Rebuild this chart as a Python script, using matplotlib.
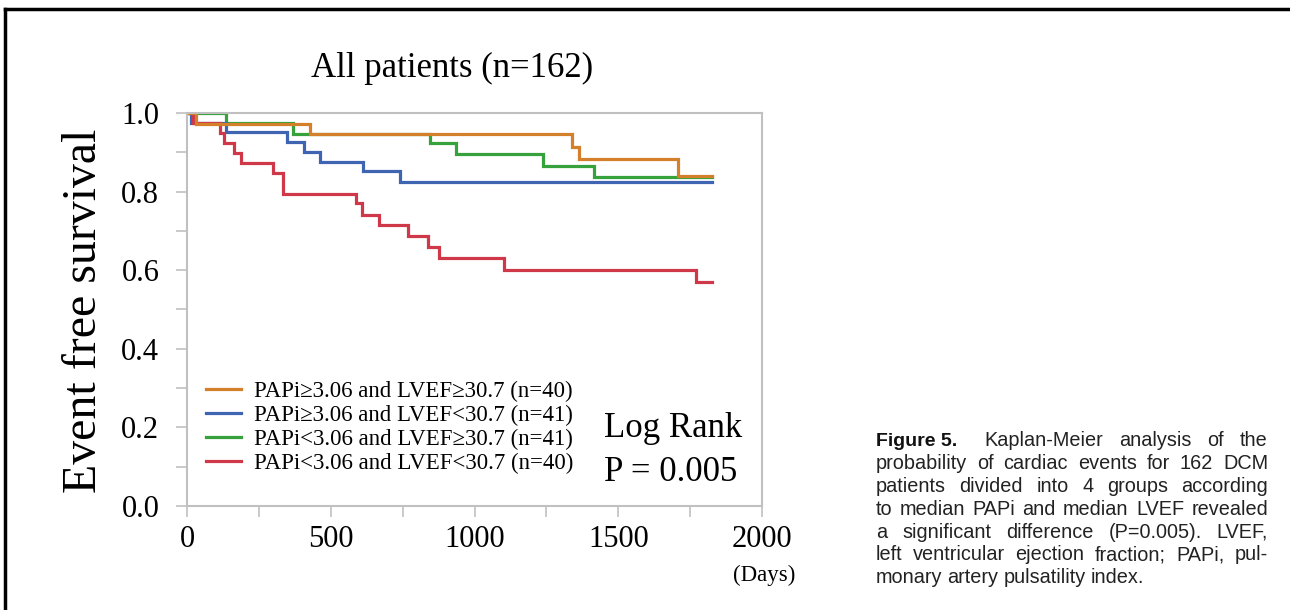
import numpy as np
import matplotlib
matplotlib.use('Agg')
import matplotlib.pyplot as plt
from matplotlib.lines import Line2D

plt.rcParams['font.family'] = ['Liberation Serif', 'DejaVu Serif']

# --- Kaplan-Meier step data (days, survival) ---
follow_up_end = 1825

orange_days = [0, 31, 428, 1338, 1364, 1708]
orange_surv = [1.0, 0.972, 0.947, 0.914, 0.883, 0.840]

blue_days = [0, 15, 136, 347, 408, 463, 613, 741]
blue_surv = [1.0, 0.975, 0.951, 0.926, 0.901, 0.876, 0.852, 0.824]

green_days = [0, 136, 369, 845, 936, 1239, 1416]
green_surv = [1.0, 0.975, 0.947, 0.924, 0.895, 0.865, 0.837]

red_days = [0, 20, 115, 130, 163, 188, 298, 333, 587, 610, 668, 769, 838, 877, 1103, 1770]
red_surv = [1.0, 0.975, 0.949, 0.924, 0.898, 0.873, 0.847, 0.794, 0.771, 0.740,
            0.715, 0.687, 0.659, 0.631, 0.600, 0.570]

group_labels = ['PAPi\u22653.06 and LVEF\u226530.7 (n=40)',
                'PAPi\u22653.06 and LVEF<30.7 (n=41)',
                'PAPi<3.06 and LVEF\u226530.7 (n=41)',
                'PAPi<3.06 and LVEF<30.7 (n=40)']
group_colors = ['#d4802a', '#3f64b2', '#35a23c', '#cf3848']

x_ticks = [0, 500, 1000, 1500, 2000]
y_ticks = [0.0, 0.2, 0.4, 0.6, 0.8, 1.0]

caption_lines = [
    ['Figure 5.', 'Kaplan-Meier', 'analysis', 'of', 'the'],
    'probability of cardiac events for 162 DCM'.split(),
    'patients divided into 4 groups according'.split(),
    'to median PAPi and median LVEF revealed'.split(),
    'a significant difference (P=0.005). LVEF,'.split(),
    'left ventricular ejection fraction; PAPi, pul-'.split(),
    'monary artery pulsatility index.'.split(),
]

fig = plt.figure(figsize=(12.9, 6.1), dpi=100)
ax = fig.add_axes([0.145, 0.1705, 0.4457, 0.6443])

series = [(orange_days, orange_surv), (blue_days, blue_surv),
          (green_days, green_surv), (red_days, red_surv)]
order = [2, 1, 3, 0]  # draw green first, orange on top
handles = [None] * 4
for i in order:
    d, s = series[i]
    xs = list(d) + [follow_up_end]
    ys = list(s) + [s[-1]]
    h, = ax.step(xs, ys, where='post', color=group_colors[i], lw=2.3,
                 solid_joinstyle='miter')
    handles[i] = h

ax.set_xlim(0, 2000)
ax.set_ylim(0, 1.0)
ax.set_xticks(np.arange(0, 2001, 250))
ax.set_xticklabels([str(t) if t in x_ticks else '' for t in np.arange(0, 2001, 250)])
ax.set_yticks(np.arange(0, 1.01, 0.1))
ax.set_yticklabels([f'{t:.1f}' if np.isclose(t, y_ticks).any() else ''
                    for t in np.arange(0, 1.01, 0.1)])

for sp in ax.spines.values():
    sp.set_color('#c0c0c0')
    sp.set_linewidth(1.5)
ax.tick_params(axis='both', direction='out', color='#c0c0c0', width=1.2,
               length=8, labelsize=22)
ax.tick_params(axis='y', pad=12)
ax.tick_params(axis='x', pad=6)

leg = ax.legend(handles, group_labels, loc='lower left', bbox_to_anchor=(0.005, 0.04),
                frameon=False, fontsize=16.5, handlelength=1.55, handletextpad=0.55,
                labelspacing=0.13, borderaxespad=0.3)

ax.text(0.725, 0.198, 'Log Rank', transform=ax.transAxes, fontsize=25,
        ha='left', va='center')
ax.text(0.725, 0.084, 'P = 0.005', transform=ax.transAxes, fontsize=25,
        ha='left', va='center')

ax.text(0.461, 1.112, 'All patients (n=162)', transform=ax.transAxes,
        fontsize=25, ha='center', va='center')
ax.text(1.003, -0.176, '(Days)', transform=ax.transAxes, fontsize=16.5,
        ha='center', va='center')

fig.text(84 / 1290, 1 - 311 / 610, 'Event free survival', rotation=90,
         fontsize=34.5, ha='center', va='center')

# black frame of the figure panel
fig.add_artist(Line2D([5 / 1290, 1.0], [1 - 9 / 610, 1 - 9 / 610],
                      transform=fig.transFigure, color='black', lw=2.5))
fig.add_artist(Line2D([5 / 1290, 5 / 1290], [0.0, 1 - 9 / 610],
                      transform=fig.transFigure, color='black', lw=2.5))

# justified caption
renderer = fig.canvas.get_renderer()
x0, x1 = 876, 1268
y_first, line_gap = 441, 22.8
cap_font = ['Liberation Sans', 'DejaVu Sans']
for li, words in enumerate(caption_lines):
    y = 1 - (y_first + li * line_gap) / 610
    texts = []
    for wi, w in enumerate(words):
        if li == 0 and wi == 0:
            t = fig.text(0, y, w, fontsize=14, fontweight='bold',
                         family=cap_font, va='center', ha='left', color='#111111')
        else:
            t = fig.text(0, y, w, fontsize=14.3, family=cap_font,
                         va='center', ha='left', color='#222222')
        texts.append(t)
    widths = [t.get_window_extent(renderer).width for t in texts]
    if li == len(caption_lines) - 1:
        gaps = [5.0] * (len(words) - 1)
    else:
        weights = [1.0] * (len(words) - 1)
        if li == 0:
            weights[0] = 1.7
        free = (x1 - x0) - sum(widths)
        unit = free / sum(weights)
        gaps = [unit * w for w in weights]
    xpos = x0
    for k, t in enumerate(texts):
        t.set_x(xpos / 1290)
        xpos += widths[k] + (gaps[k] if k < len(gaps) else 0)

fig.savefig('out.png', dpi=100)
